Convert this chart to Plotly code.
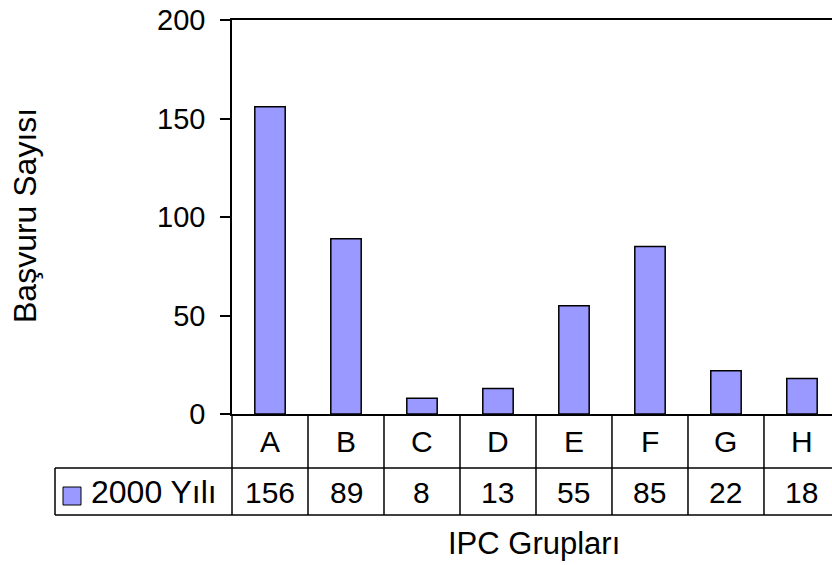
import plotly.graph_objects as go

categories = ["A", "B", "C", "D", "E", "F", "G", "H"]
values_2000 = [156, 89, 8, 13, 55, 85, 22, 18]
series_name = "2000 Yılı"
y_ticks = [0, 50, 100, 150, 200]
y_title = "Başvuru Sayısı"
x_title = "IPC Grupları"

W, H = 832, 565
PLOT_L, PLOT_T, PLOT_B = 232, 20, 414          # plot area in window pixels
L, T = PLOT_L, PLOT_T
B = H - PLOT_B
R = 0
PW, PH = W - L - R, H - T - B
XMIN, XMAX = -0.5, 7.395
FONT = "Liberation Sans, Arial, sans-serif"
FS = 29
BAR = "#9999FF"
LW = 1.5


def px(x):
    return (x - PLOT_L) / PW


def py(y):
    return (PLOT_B - y) / PH


def dx(v):
    return (v - XMIN) / (XMAX - XMIN)


fig = go.Figure()
fig.add_trace(go.Bar(
    x=list(range(len(categories))), y=values_2000, width=0.4,
    marker=dict(color=BAR, line=dict(color="black", width=LW)),
    name=series_name, showlegend=False,
))

shapes = []
n = len(categories)
for i in range(n + 1):
    xp = dx(i - 0.5)
    shapes.append(dict(type="line", xref="paper", yref="paper",
                       x0=xp, x1=xp, y0=py(414), y1=py(515),
                       line=dict(color="black", width=LW)))
shapes.append(dict(type="line", xref="paper", yref="paper",
                   x0=px(55), x1=px(55), y0=py(468), y1=py(515),
                   line=dict(color="black", width=LW)))
for yy in (468, 515):
    shapes.append(dict(type="line", xref="paper", yref="paper",
                       x0=px(55), x1=dx(n - 0.5), y0=py(yy), y1=py(yy),
                       line=dict(color="black", width=LW)))
shapes.append(dict(type="rect", xref="paper", yref="paper",
                   x0=px(63), x1=px(81), y0=py(505), y1=py(487),
                   fillcolor=BAR, line=dict(color="black", width=1)))

annotations = []
for i, c in enumerate(categories):
    annotations.append(dict(x=i, xref="x", y=py(441), yref="paper", text=c,
                            showarrow=False, xanchor="center", yanchor="middle",
                            font=dict(family=FONT, size=30, color="black")))
    annotations.append(dict(x=i, xref="x", y=py(492), yref="paper",
                            text=str(values_2000[i]),
                            showarrow=False, xanchor="center", yanchor="middle",
                            font=dict(family=FONT, size=30, color="black")))
annotations.append(dict(x=px(89), xref="paper", y=py(492), yref="paper",
                        text=series_name, showarrow=False, xanchor="left",
                        yanchor="middle",
                        font=dict(family=FONT, size=32, color="black")))
annotations.append(dict(x=px(534), xref="paper", y=py(543), yref="paper",
                        text=x_title, showarrow=False, xanchor="center",
                        yanchor="middle",
                        font=dict(family=FONT, size=31, color="black")))
annotations.append(dict(x=px(25), xref="paper", y=py(216), yref="paper",
                        text=y_title, showarrow=False, textangle=-90,
                        xanchor="center", yanchor="middle",
                        font=dict(family=FONT, size=32, color="black")))

fig.update_layout(
    width=W, height=H,
    margin=dict(l=L, r=R, t=T, b=B, pad=0, autoexpand=False),
    paper_bgcolor="white", plot_bgcolor="white",
    font=dict(family=FONT, size=FS, color="black"),
    shapes=shapes, annotations=annotations,
    showlegend=False,
    xaxis=dict(range=[XMIN, XMAX], showticklabels=False, ticks="",
               showgrid=False, zeroline=False, showline=True, mirror=True,
               linecolor="black", linewidth=LW, fixedrange=True,
               automargin=False),
    yaxis=dict(range=[0, 200], tickvals=y_ticks, ticks="outside", ticklen=10,
               tickwidth=LW, tickcolor="black", showgrid=False, zeroline=False,
               showline=True, linecolor="black", linewidth=LW,
               ticklabelstandoff=9, ticklabeloverflow="allow",
               automargin=False,
               tickfont=dict(family=FONT, size=FS, color="black"),
               fixedrange=True),
)

fig.write_html(
    "out.html",
    config={"displayModeBar": False},
    post_script="document.body.style.margin='0';document.body.style.overflow='hidden';",
)
